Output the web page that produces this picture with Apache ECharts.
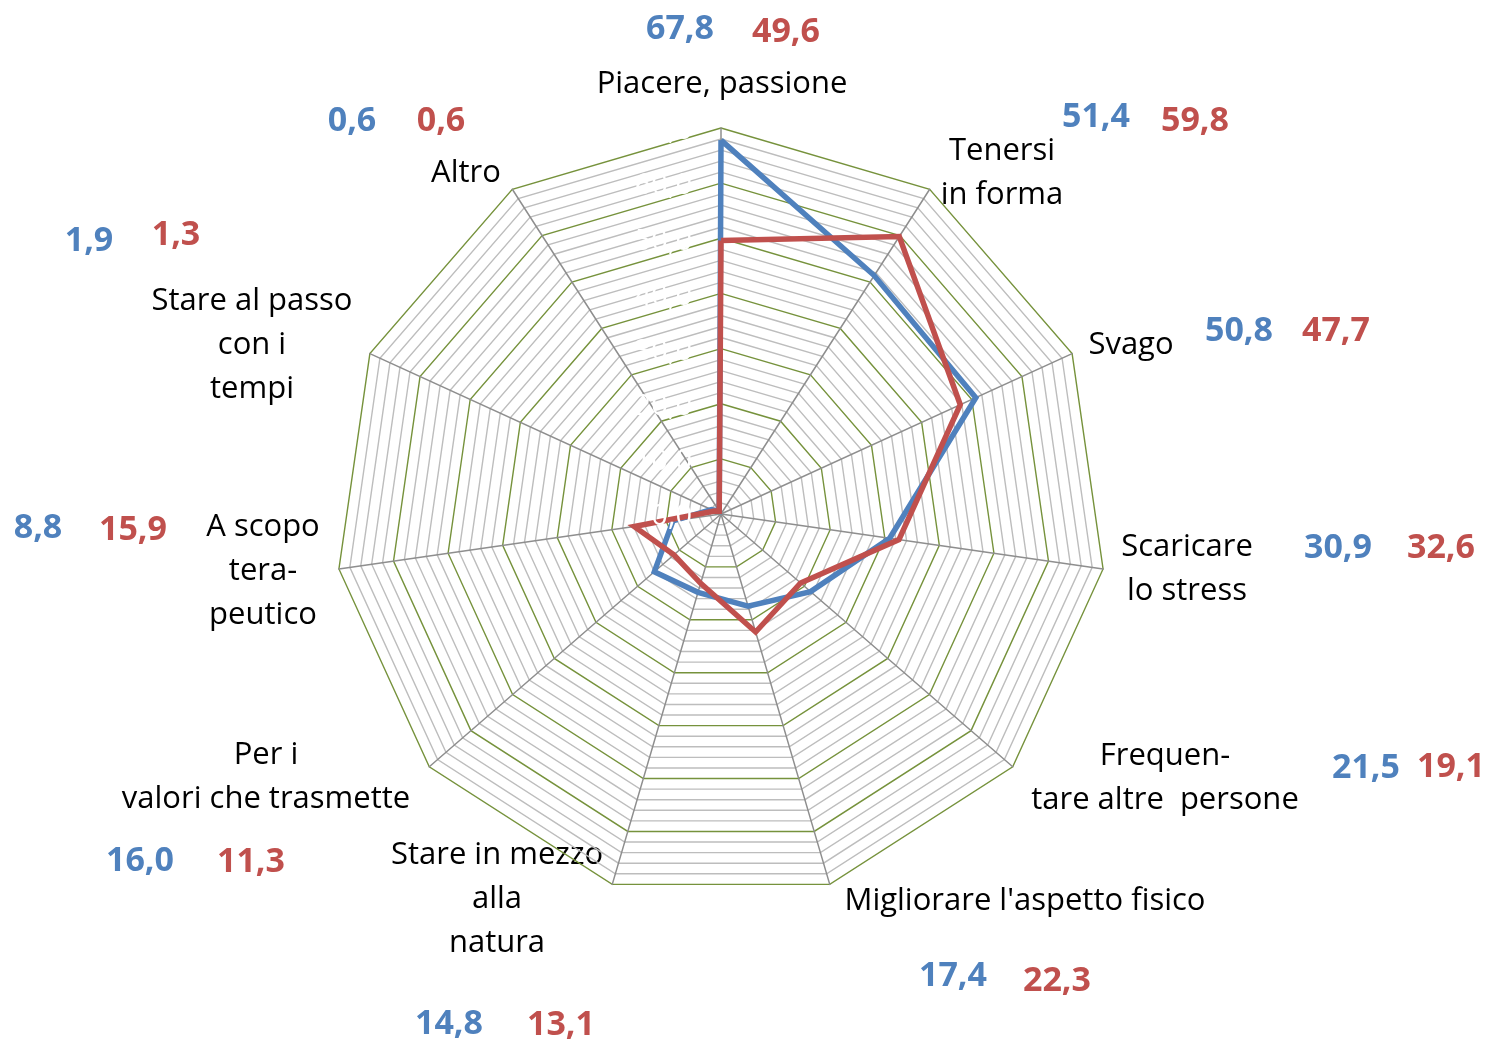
<!DOCTYPE html>
<html>
<head>
<meta charset="utf-8">
<title>Motivi</title>
<script src="https://cdn.jsdelivr.net/npm/echarts@6/dist/echarts.min.js"></script>
<style>
  html, body { margin: 0; padding: 0; background: #fff; }
  #chart { width: 1489px; height: 1043px; }
</style>
</head>
<body>
<div id="chart"></div>
<script>
// categories, in the chart's clockwise order starting at the top
const categories = [
  'Piacere, passione',
  'Tenersi\nin forma',
  'Svago',
  'Scaricare\nlo stress',
  'Frequen-\ntare altre  persone',
  "Migliorare l'aspetto fisico",
  'Stare in mezzo\nalla\nnatura',
  'Per i\nvalori che trasmette',
  'A scopo\ntera-\npeutico',
  'Stare al passo\ncon i\ntempi',
  'Altro'
];
const blueValues = [67.8, 51.4, 50.8, 30.9, 21.5, 17.4, 14.8, 16.0, 8.8, 1.9, 0.6];
const redValues  = [49.6, 59.8, 47.7, 32.6, 19.1, 22.3, 13.1, 11.3, 15.9, 1.3, 0.6];
const axisMax = 70;
const axisTicks = [0, 10, 20, 30, 40, 50, 60, 70];   // white (hidden) labels on the first axis

const BLUE = '#4F81BD';
const RED = '#C0504D';
const FONT = '"Open Sans", Lato, sans-serif';
const CX = 721, CY = 514, R = 386;

// where each category's texts sit: name centre, blue number, red number
const labelPos = [
  { name: [722, 84],   b: [680, 29],   r: [786, 32] },
  { name: [1002, 173], b: [1096, 117], r: [1195, 121] },
  { name: [1131, 345], b: [1239, 331], r: [1336, 331] },
  { name: [1187, 569], b: [1338, 548], r: [1441, 548] },
  { name: [1165, 778], b: [1366, 768], r: [1451, 767] },
  { name: [1025, 901], b: [953, 976],  r: [1057, 981] },
  { name: [497, 899],  b: [449, 1024], r: [561, 1025] },
  { name: [266, 777],  b: [140, 861],  r: [251, 862] },
  { name: [263, 571],  b: [38, 528],   r: [133, 530] },
  { name: [252, 345],  b: [89, 241],   r: [176, 235] },
  { name: [466, 173],  b: [352, 121],  r: [441, 121] }
];

// echarts lays radar indicators counter-clockwise, so reverse all but the first
const order = [0].concat(categories.map((c, i) => i).slice(1).reverse());

const fmt = v => v.toFixed(1).replace('.', ',');

const graphics = [];
categories.forEach((name, i) => {
  const p = labelPos[i];
  graphics.push({
    type: 'text', x: p.name[0], y: p.name[1], silent: true,
    style: { text: name, fill: '#000', font: '31px ' + FONT, align: 'center',
             verticalAlign: 'middle', lineHeight: 44 }
  });
  graphics.push({
    type: 'text', x: p.b[0], y: p.b[1], silent: true,
    style: { text: fmt(blueValues[i]), fill: BLUE, font: 'bold 34px ' + FONT,
             align: 'center', verticalAlign: 'middle' }
  });
  graphics.push({
    type: 'text', x: p.r[0], y: p.r[1], silent: true,
    style: { text: fmt(redValues[i]), fill: RED, font: 'bold 34px ' + FONT,
             align: 'center', verticalAlign: 'middle' }
  });
});
// axis value labels are white in the original: they only show as gaps in the lines
axisTicks.forEach(v => {
  graphics.push({
    type: 'text', x: CX - 29, y: CY - v / axisMax * R + 3, silent: true, z: 100,
    style: { text: fmt(v), fill: '#fff', font: '29px ' + FONT,
             align: 'right', verticalAlign: 'middle' }
  });
});

const chart = echarts.init(document.getElementById('chart'));
chart.setOption({
  animation: false,
  radar: {
    center: [CX, CY],
    radius: R,
    startAngle: 90,
    shape: 'polygon',
    splitNumber: 35,
    indicator: order.map(i => ({ name: categories[i], max: axisMax, min: 0 })),
    axisName: { show: false },
    axisLine: { lineStyle: { color: '#8e8e8e', width: 1.5 } },
    axisTick: { show: false },
    axisLabel: { show: false },
    splitArea: { show: false },
    splitLine: {
      lineStyle: {
        color: ['#76923C', '#bdbdbd', '#bdbdbd', '#bdbdbd', '#bdbdbd'],
        width: 1.4
      }
    }
  },
  series: [{
    type: 'radar',
    symbol: 'none',
    data: [
      { name: 'blu', value: order.map(i => blueValues[i]),
        lineStyle: { color: BLUE, width: 5.5, join: 'miter' } },
      { name: 'rosso', value: order.map(i => redValues[i]),
        lineStyle: { color: RED, width: 5.5, join: 'miter' } }
    ]
  }],
  graphic: graphics
});
</script>
</body>
</html>
